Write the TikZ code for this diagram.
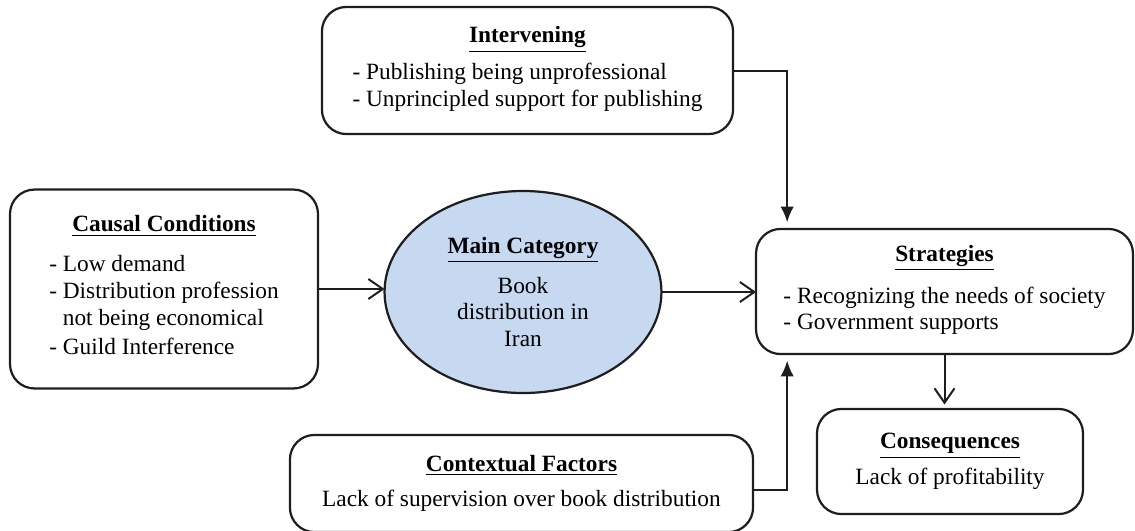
\documentclass[tikz,border=0pt]{standalone}
\usepackage{fontspec}
\setmainfont{Liberation Serif}
\usetikzlibrary{arrows.meta,shapes.geometric}
\definecolor{catblue}{RGB}{198,217,240}
\definecolor{edge}{RGB}{30,30,30}

\begin{document}
\begin{tikzpicture}[x=0.45pt, y=-0.45pt,
    box/.style = {draw=edge, line width=1pt, rounded corners=11pt, inner sep=0pt, outer sep=0pt, align=center},
    cat/.style = {draw=edge, line width=1pt, ellipse, fill=catblue, inner sep=0pt, outer sep=0pt, align=center},
    every node/.style = {font=\fontsize{10.5}{12}\selectfont},
    open/.style = {-{Straight Barb[length=6.5pt,width=9pt]}, line width=0.9pt, draw=edge},
    full/.style = {-{Latex[length=7pt,width=6pt]}, line width=0.9pt, draw=edge}]
    \useasboundingbox (0,0) rectangle (1135,530);
			\node[box, minimum width=138.6pt, minimum height=89.5pt] (causal) at (164,289)
				{\underline{\textbf{Causal Conditions}}\\[6pt]
				\begin{tabular}[t]{@{}l@{}}- Low demand\\- Distribution profession\\\phantom{- }not being economical\\[1pt]- Guild Interference\end{tabular}};
			\node[cat, minimum width=124.6pt, minimum height=90.9pt] (main) at (523,292)
				{\underline{\textbf{Main Category}}\\[6pt] Book\\ distribution in\\ Iran};
			\node[box, minimum width=185pt, minimum height=57.2pt] (interv) at (527.5,70.5)
				{\underline{\textbf{Intervening}}\\[3pt]
				\begin{tabular}[t]{@{}l@{}}- Publishing being unprofessional\\- Unprincipled support for publishing\end{tabular}};
			\node[box, minimum width=169.6pt, minimum height=56.3pt] (strat) at (944.5,291.5)
				{\underline{\textbf{Strategies}}\\[5pt]
				\begin{tabular}[t]{@{}l@{}}- Recognizing the needs of society\\- Government supports\end{tabular}};
			\node[box, minimum width=119.7pt, minimum height=47.3pt] (cons) at (950,461.5)
				{\underline{\textbf{Consequences}}\\[4pt] Lack of profitability};
			\node[box, minimum width=208.4pt, minimum height=43.7pt] (ctx) at (521.5,483.5)
				{\underline{\textbf{Contextual Factors}}\\[4pt] Lack of supervision over book distribution};
			\coordinate (sin) at ([xshift=14pt]strat.north west);
			\coordinate (sout) at ([xshift=14pt]strat.south west);
			\draw[open] (causal.east) -- (causal.east -| main.west);
			\draw[open] (main.east) -- (main.east -| strat.west);
			\draw[full, shorten >=3pt] (interv.east) -| (sin);
			\draw[full, shorten >=3pt] ([yshift=-3pt]ctx.east) -| (sout);
			\draw[open, shorten >=2pt] (strat.south) -- (strat.south |- cons.north);
		\end{tikzpicture}
\end{document}
